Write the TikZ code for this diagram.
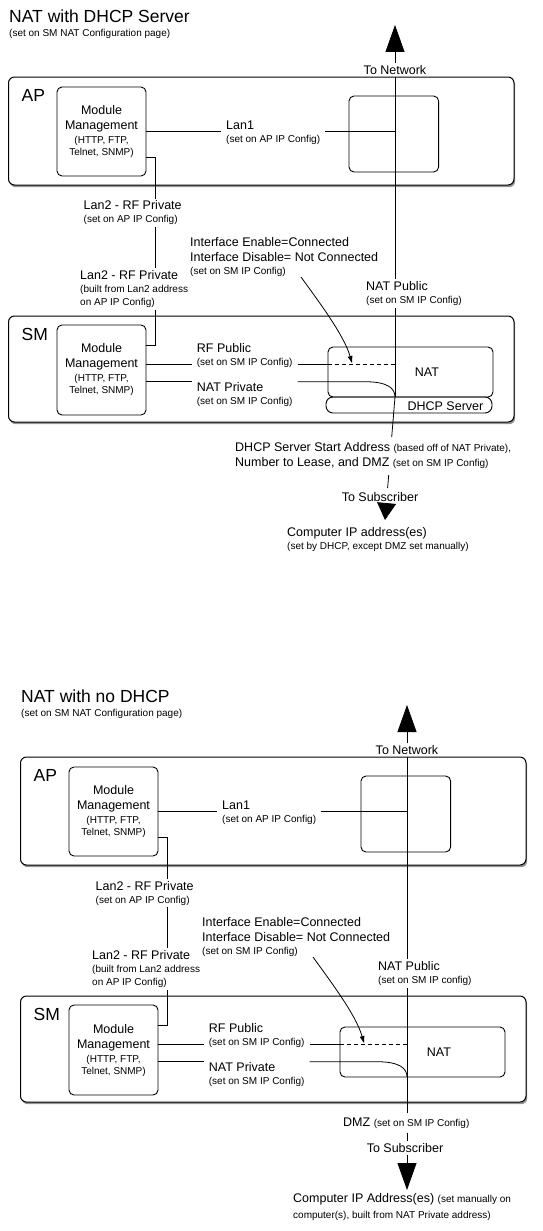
\documentclass[tikz,border=0pt]{standalone}
\usepackage{fontspec}
\setmainfont{Liberation Sans}
\usetikzlibrary{arrows.meta,calc,shadows}
\newcommand{\mainsz}{\fontsize{12.5}{13}\selectfont}
\newcommand{\subsz}{\fontsize{10}{12}\selectfont}
\newcommand{\headsz}{\fontsize{17.5}{20}\selectfont}
\tikzset{
  panelbox/.style={
    draw=black,
    fill=white,
    line width=1pt,
    rounded corners=6pt,
    drop shadow={shadow xshift=1.2pt, shadow yshift=-2.2pt,
      opacity=0.6, fill=black!70}
  },
  modbox/.style={
    draw=black,
    line width=0.9pt,
    rounded corners=5pt,
    align=center,
    font=\mainsz,
    inner sep=0pt
  },
  wire/.style={line width=0.8pt},
  lbl/.style={font=\mainsz, align=left, anchor=west, inner xsep=5pt, inner ysep=2pt},
  headlbl/.style={font=\headsz, anchor=west, inner sep=0pt},
  bigtip/.style={wire, -{Triangle[length=27pt,width=19pt]}},
  smalltip/.style={wire, -{Triangle[length=7pt,width=4.5pt]}}
}
\newcommand{\modtext}{Module\\[2pt]Management\\[1pt]{\subsz (HTTP, FTP,}\\[-1pt]{\subsz Telnet, SNMP)}}
\newcommand{\natpanel}[3]{%
  \node[headlbl] (title) at (9,16) {#1};
  \node[font=\subsz, anchor=west, inner sep=0pt] (subtitle) at (9,34) {(set on SM NAT Configuration page)};
  \draw[panelbox] (8.5,77) rectangle (514,185);
  \draw[panelbox] (8.5,316) rectangle (514,422);
  \node[headlbl] (aplbl) at (21.5,95) {AP};
  \node[headlbl] (smlbl) at (21.5,334) {SM};
  \node[modbox, minimum width=89pt, minimum height=89pt] (apmod) at (101.5,131.5) {\modtext};
  \node[modbox, minimum width=89pt, minimum height=90pt] (smmod) at (101.5,370) {\modtext};
  \node[modbox, minimum width=89.6pt, minimum height=76pt] (apinner) at (393.8,134) {};
  \node[modbox, minimum width=165pt, minimum height=50pt] (natbox) at (410.5,372) {};
  \node[font=\mainsz] (nattxt) at (427,372) {NAT};
  \coordinate (vline) at (395,0);
  \coordinate (natj) at (395,397);
  \coordinate (nettip) at (395,25);
  \node[font=\mainsz, inner ysep=2pt] (tonet) at (395,70) {To Network};
  \node[lbl] (natpub) at (361,293.5) {NAT Public\\{\subsz #3}};
  \draw[bigtip] (tonet.north) -- (nettip);
  \draw[wire] (tonet.south) -- (vline |- natpub.north);
  \draw[wire] (vline |- natpub.south) -- (natj);
  \node[lbl] (lan1) at (#2,132.5) {Lan1\\{\subsz (set on AP IP Config)}};
  \draw[wire] (apmod.east) -- (lan1.west |- apmod.east);
  \draw[wire] (lan1.east |- apmod.east) -- (vline |- apmod.east);
  \coordinate (lan2top) at (155.6,157);
  \coordinate (lan2bot) at (155.6,345);
  \node[lbl] (lan2a) at (78.5,213) {Lan2 - RF Private\\{\subsz (set on AP IP Config)}};
  \node[lbl] (lan2b) at (75,289) {Lan2 - RF Private\\{\subsz (built from Lan2 address}\\{\subsz on AP IP Config)}};
  \draw[wire] (apmod.east |- lan2top) -- (lan2top) -- (lan2a.north -| lan2top);
  \draw[wire] (lan2a.south -| lan2top) -- (lan2b.north -| lan2top);
  \draw[wire] (lan2b.south -| lan2top) -- (lan2bot) -- (smmod.east |- lan2bot);
  \node[lbl] (iface) at (185,257) {Interface Enable=Connected\\[2pt]Interface Disable= Not Connected\\{\subsz (set on SM IP Config)}};
  \coordinate (ifacefrom) at (301,277);
  \coordinate (ifaceto) at (352,363);
  \draw[smalltip] (ifacefrom) .. controls (319,302) and (344,335) .. (ifaceto);
  \coordinate (rfy) at (0,364);
  \node[lbl] (rfpub) at (191.7,355.5) {RF Public\\{\subsz (set on SM IP Config)}};
  \draw[wire] (smmod.east |- rfy) -- (rfpub.west |- rfy);
  \draw[wire] (rfpub.east |- rfy) -- (natbox.west |- rfy);
  \draw[wire, dash pattern=on 4pt off 3pt] (natbox.west |- rfy) -- (vline |- rfy);
  \coordinate (npy) at (0,381.7);
  \node[lbl] (natpriv) at (191.7,394.3) {NAT Private\\{\subsz (set on SM IP Config)}};
  \draw[wire] (smmod.east |- npy) -- (natpriv.west |- npy);
  \draw[wire] (natpriv.east |- npy) -- (365,381.7) .. controls (387,381.7) and (395,388) .. (natj);
}

\begin{document}
\begin{tikzpicture}[x=1pt, y=-1pt]
  \useasboundingbox (0,0) rectangle (543,1231);
  \begin{scope}[name prefix=top-]
    \natpanel{NAT with DHCP Server}{221}{(set on SM IP Config)}
    \node[modbox, minimum width=166pt, minimum height=16pt, rounded corners=7pt] (dhcpbox) at (409,405) {};
    \node[font=\mainsz, anchor=east, inner sep=0pt] (dhcptxt) at (483.5,406) {DHCP Server};
    \node[lbl] (dinfo) at (230,456) {DHCP Server Start Address {\subsz (based off of NAT Private),}\\[2pt]Number to Lease, and DMZ {\subsz (set on SM IP Config)}};
    \node[font=\mainsz, inner ysep=2pt] (tosub) at (380,497) {To Subscriber};
    \coordinate (v2) at (391.7,437);
    \coordinate (v3) at (388.7,475);
    \coordinate (v4) at (387.6,488);
    \coordinate (v5) at (386.6,503);
    \coordinate (subtip) at (385,520);
    \draw[wire] (natj) -- (v2);
    \draw[wire] (v3) -- (v4);
    \draw[wire, -{Triangle[length=17pt,width=19pt]}] (v5) -- (subtip);
    \node[lbl] (comp) at (282,539.5) {Computer IP address(es)\\{\subsz (set by DHCP, except DMZ set manually)}};
  \end{scope}
  \begin{scope}[shift={(12,680)}, name prefix=bot-]
    \natpanel{NAT with no DHCP}{205}{(set on SM IP config)}
    \node[lbl, inner ysep=4pt] (dmz) at (326,443) {DMZ {\subsz (set on SM IP Config)}};
    \node[font=\mainsz, inner ysep=2pt] (tosub) at (393,468) {To Subscriber};
    \coordinate (subtip) at (395,510);
    \draw[wire] (natj) -- (vline |- dmz.north);
    \draw[wire] (vline |- dmz.south) -- (vline |- tosub.north);
    \draw[bigtip] (vline |- tosub.south) -- (subtip);
    \node[lbl] (comp) at (276,527) {Computer IP Address(es) {\subsz (set manually on}\\[3pt]{\subsz computer(s), built from NAT Private address)}};
  \end{scope}
\end{tikzpicture}
\end{document}
